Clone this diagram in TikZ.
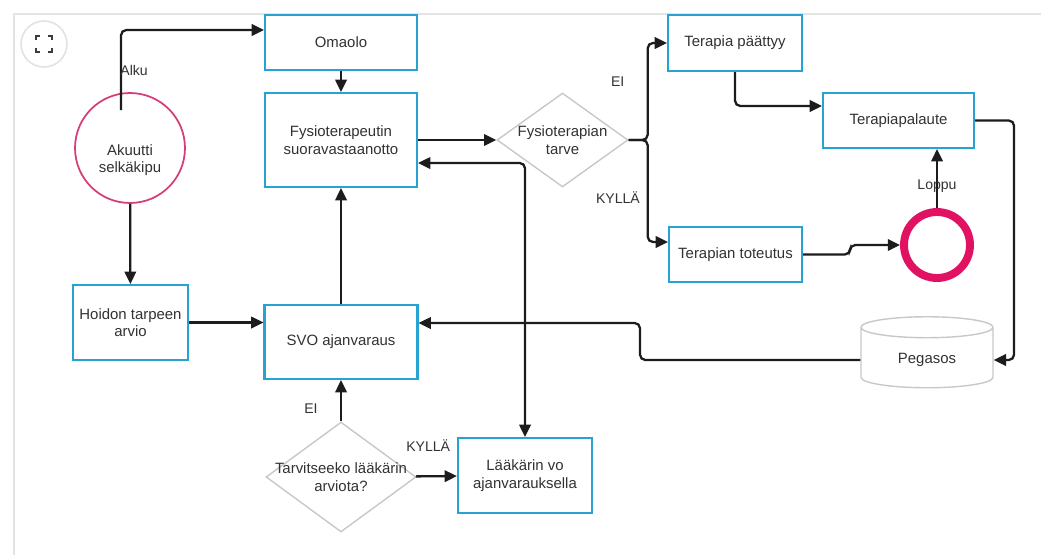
\documentclass[tikz,border=0pt]{standalone}
\usepackage{fontspec}
\setmainfont{Liberation Sans}
\usepackage{tikz}
\usetikzlibrary{shapes.geometric, arrows.meta, calc}
\definecolor{boxblue}{RGB}{38,163,208}
\definecolor{startpink}{RGB}{212,62,122}
\definecolor{endpink}{RGB}{226,18,98}
\definecolor{shapegray}{RGB}{200,200,200}
\definecolor{linegray}{RGB}{28,28,28}
\definecolor{textgray}{RGB}{50,50,50}
\definecolor{framegray}{RGB}{228,228,228}
\definecolor{btngray}{RGB}{60,60,60}
\tikzset{
  box/.style      = {rectangle, draw=boxblue, line width=1.2pt, fill=white,
                     text=textgray, align=center, inner sep=1pt,
                     font=\fontsize{8.5}{10}\selectfont},
  decision/.style = {diamond, draw=shapegray, line width=0.8pt, fill=white,
                     inner sep=0pt, font=\fontsize{8.5}{10}\selectfont},
  startnode/.style= {circle, draw=startpink, line width=1pt, fill=white,
                     minimum size=2.2cm, inner sep=0pt},
  endnode/.style  = {circle, draw=endpink, line width=4.5pt, fill=white,
                     minimum size=1.32cm, inner sep=0pt},
  store/.style    = {cylinder, shape border rotate=90, draw=shapegray,
                     line width=0.8pt, fill=white, aspect=0.3,
                     minimum width=2.64cm, minimum height=1.42cm,
                     text=textgray, font=\fontsize{8.5}{10}\selectfont},
  viewbtn/.style  = {circle, draw=framegray, line width=1pt, fill=white,
                     minimum size=0.92cm},
  arrow/.style    = {-{Triangle[length=7pt, width=6.5pt]}, line width=1.3pt,
                     draw=linegray, rounded corners=3pt},
  darrow/.style   = {{Triangle[length=7pt, width=6.5pt]}-{Triangle[length=7pt, width=6.5pt]},
                     line width=1.3pt, draw=linegray, rounded corners=3pt},
  lbl/.style      = {text=textgray, inner sep=1pt, font=\fontsize{8}{9.5}\selectfont},
}
\begin{document}
\begin{tikzpicture}[x=0.02cm, y=-0.02cm]
  \useasboundingbox (0,0) rectangle (1041,555);

  %─── Frame and view button ─────────────────────────────────────────────────
  \draw[framegray, line width=1.6pt] (14,555) -- (14,14) -- (1041,14);
  \node[viewbtn] (viewbtn) at (44,44) {};
  \foreach \sx/\sy in {-1/-1, 1/-1, 1/1, -1/1}
    \draw[btngray, line width=1.4pt]
      ($(viewbtn.center)+(\sx*8,\sy*4)$) -- ++(0,\sy*4) -- ++(-\sx*4,0);

  %─── Left column ───────────────────────────────────────────────────────────
  \node[startnode, label={[text=textgray, align=center, yshift=-0.24cm,
        font=\fontsize{8.5}{10}\selectfont]center:Akuutti\\selkäkipu}]
        (akuutti) at (130,148) {};
  \node[box, minimum width=2.3cm, minimum height=1.5cm] (hoidon) at (130.5,322.5) {Hoidon tarpeen\\arvio};

  %─── Middle column ─────────────────────────────────────────────────────────
  \node[box, minimum width=3.04cm, minimum height=1.1cm]  (omaolo) at (341,42.5) {Omaolo};
  \node[box, minimum width=3.04cm, minimum height=1.88cm] (fysio)  at (341,140)  {Fysioterapeutin\\suoravastaanotto};
  \node[box, minimum width=3.06cm, minimum height=1.48cm] (svo)    at (341,342)  {SVO ajanvaraus};
  \node[decision, minimum width=3cm, minimum height=2.2cm,
        label={[lbl, font=\fontsize{8.5}{10}\selectfont, align=center]center:Tarvitseeko lääkärin\\arviota?}]
        (tarvitseeko) at (341,477) {};
  \node[box, minimum width=2.68cm, minimum height=1.5cm] (laakari) at (525,475.5) {Lääkärin vo\\ajanvarauksella};

  %─── Right part ────────────────────────────────────────────────────────────
  \node[decision, minimum width=2.62cm, minimum height=1.88cm,
        label={[lbl, font=\fontsize{8.5}{10}\selectfont, align=center]center:Fysioterapian\\tarve}]
        (tarve) at (562.5,140) {};
  \node[box, minimum width=2.68cm, minimum height=1.12cm] (paattyy)  at (735,43)      {Terapia päättyy};
  \node[box, minimum width=3.02cm, minimum height=1.1cm]  (palaute)  at (898.5,120.5) {Terapiapalaute};
  \node[box, minimum width=2.66cm, minimum height=1.1cm]  (toteutus) at (735.5,254.5) {Terapian toteutus};
  \node[endnode] (loppu)   at (937,245) {};
  \node[store]   (pegasos) at (927,360) {Pegasos};

  %─── Edges ─────────────────────────────────────────────────────────────────
  % start
  \coordinate (alkustart) at (121,110);
  \draw[arrow] (alkustart) |- node[lbl, pos=0.25, right=-0.07cm] {Alku} ($(omaolo.west)+(0,-12.5)$);
  \draw[arrow] (akuutti) -- (hoidon);
  \draw[arrow] (hoidon.east) -- (hoidon.east -| svo.west);

  % middle column
  \draw[arrow] (omaolo) -- (fysio);
  \draw[arrow] (svo) -- (fysio);
  \draw[arrow] (tarvitseeko) -- node[lbl, pos=0.3, left=0.41cm] {EI} (svo);
  \draw[arrow] (tarvitseeko) -- node[lbl, pos=0.3, above=0.44cm] {KYLLÄ} (laakari);
  \draw[darrow] ($(fysio.east)+(0,23)$) -| (laakari.north);

  % therapy branch
  \draw[arrow] (fysio.east) -- (tarve.west);
  \draw[arrow] (tarve.east) -- ++(19,0) |- node[lbl, pos=0.3, left=0.41cm] {EI} (paattyy.west);
  \draw[arrow] (tarve.east) -- ++(19,0) |- node[lbl, pos=0.28, left=0.1cm] {KYLLÄ} ($(toteutus.west)+(0,-12.5)$);
  \draw[arrow] (paattyy.south) |- ($(palaute.west)+(0,-14.5)$);
  \draw[arrow] (toteutus.east) -- ++(47,0) |- (loppu.west);
  \draw[arrow] (loppu.north) -- node[lbl, pos=0.38] {Loppu} (loppu.north |- palaute.south);

  % feedback to Pegasos and back
  \draw[arrow] (palaute.east) -- ++(39,0) |- (pegasos.east);
  \draw[arrow] (pegasos.west) -- (640,360) |- ($(svo.east)+(0,-19)$);

\end{tikzpicture}
\end{document}
